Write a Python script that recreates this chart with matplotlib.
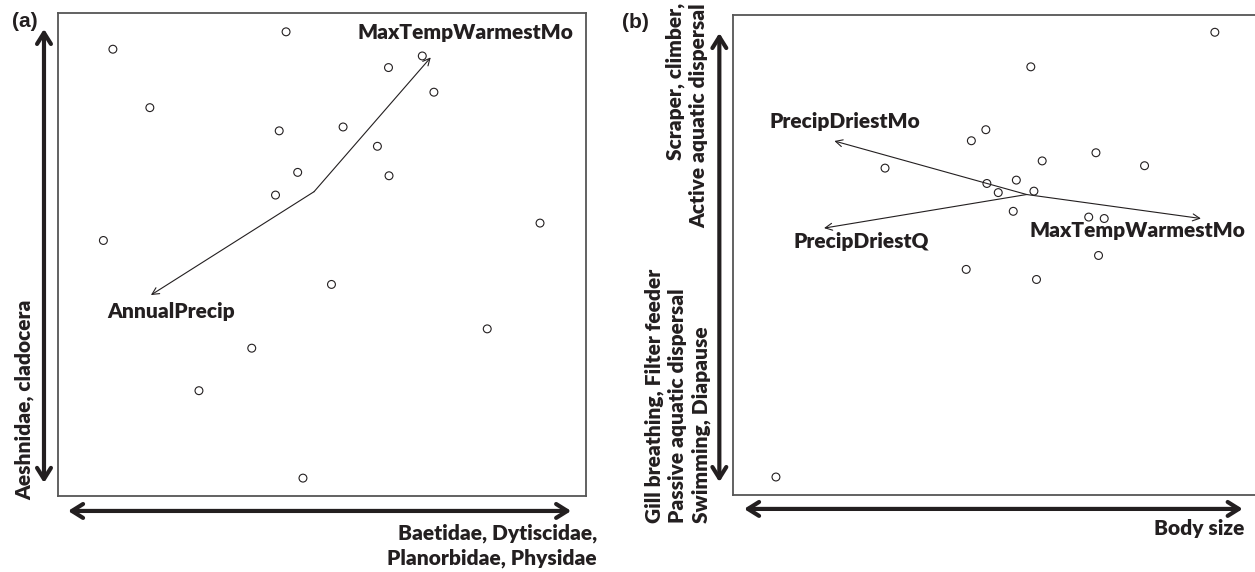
import matplotlib
matplotlib.use("Agg")
import matplotlib.pyplot as plt

plt.rcParams['font.family'] = ['Lato', 'DejaVu Sans']

# panel (a) site scores
a_x = [10.4, 43.2, 17.4, 41.9, 45.4, 41.2, 8.6, 69.0, 62.6, 71.2,
       54.0, 60.5, 62.7, 91.3, 51.8, 36.7, 26.7, 46.4, 81.3]
a_y = [92.5, 96.1, 80.4, 75.6, 67.0, 62.3, 52.9, 91.1, 88.7, 83.6,
       76.4, 72.4, 66.3, 56.5, 43.8, 30.6, 21.8, 3.7, 34.6]
# panel (a) environmental vectors: origin, tips, label positions
a_origin = (48.5, 63.0)
a_vec_names = ['MaxTempWarmestMo', 'AnnualPrecip']
a_vec_tips = [(70.6, 90.8), (17.6, 41.6)]
a_vec_lab = [(77.1, 95.9), (21.4, 38.1)]

# panel (b) site scores
b_x = [93.2, 57.6, 48.9, 46.1, 70.2, 59.8, 79.6, 49.1, 54.8, 51.3,
       58.2, 54.2, 68.8, 71.8, 70.7, 45.1, 58.7, 29.4, 8.3]
b_y = [96.4, 89.2, 76.1, 73.8, 71.3, 69.6, 68.6, 64.9, 65.6, 63.0,
       63.3, 59.1, 57.9, 57.6, 49.9, 47.0, 44.9, 68.1, 3.75]
b_origin = (56.8, 62.6)
b_vec_names = ['PrecipDriestMo', 'PrecipDriestQ', 'MaxTempWarmestMo']
b_vec_tips = [(19.6, 73.75), (17.6, 55.6), (90.5, 57.6)]
b_vec_lab = [(21.7, 77.9), (24.8, 52.9), (78.2, 55.2)]

a_xlabel = 'Baetidae, Dytiscidae,\nPlanorbidae, Physidae'
a_ylabel = 'Aeshnidae, cladocera'
b_xlabel = 'Body size'
b_ylabel_top = 'Scraper, climber,\nActive aquatic dispersal'
b_ylabel_bot = 'Gill breathing, Filter feeder\nPassive aquatic dispersal\nSwimming, Diapause'

TXT = '#231f20'
fs = 15
W = 800

fig = plt.figure(figsize=(12.55, 5.72), dpi=100)
ax1 = fig.add_axes([0.0462, 0.1329, 0.4207, 0.8444])
ax2 = fig.add_axes([0.5841, 0.1346, 0.4167, 0.8392])


def big_arrow(ax, start, end):
    ax.annotate('', xy=end, xytext=start, xycoords='axes fraction',
                textcoords='axes fraction', annotation_clip=False,
                arrowprops=dict(arrowstyle='<->,head_length=0.8,head_width=0.5',
                                lw=3, color=TXT, shrinkA=0, shrinkB=0))


def setup(ax, xmax):
    ax.set_xlim(0, xmax)
    ax.set_ylim(0, 100)
    ax.set_xticks([])
    ax.set_yticks([])
    for s in ax.spines.values():
        s.set_color('#555555')
        s.set_linewidth(1.3)


def vectors(ax, origin, tips, names, labs):
    for tip, name, lab in zip(tips, names, labs):
        ax.annotate('', xy=tip, xytext=origin,
                    arrowprops=dict(arrowstyle='->,head_length=0.5,head_width=0.25',
                                    lw=0.8, color=TXT, shrinkA=0, shrinkB=0))
        ax.text(lab[0], lab[1], name, ha='center', va='center',
                fontsize=fs, fontweight=W, color=TXT)


# panel (a)
setup(ax1, 100)
ax1.scatter(a_x, a_y, s=32, facecolors='none', edgecolors=TXT, linewidths=0.8)
vectors(ax1, a_origin, a_vec_tips, a_vec_names, a_vec_lab)
big_arrow(ax1, (-0.0265, 0.027), (-0.0265, 0.967))
big_arrow(ax1, (0.019, -0.031), (0.972, -0.031))
ax1.text(-0.0625, 0.199, a_ylabel, transform=ax1.transAxes, rotation=90,
         ha='center', va='center', fontsize=fs, fontweight=W, color=TXT)
ax1.text(1.021, -0.058, a_xlabel, transform=ax1.transAxes, ha='right', va='top',
         multialignment='right', fontsize=fs, fontweight=W, color=TXT,
         linespacing=1.3)

# panel (b)
setup(ax2, 101.16)
ax2.scatter(b_x, b_y, s=32, facecolors='none', edgecolors=TXT, linewidths=0.8)
vectors(ax2, b_origin, b_vec_tips, b_vec_names, b_vec_lab)
big_arrow(ax2, (-0.0262, 0.027), (-0.0262, 0.9625))
big_arrow(ax2, (0.021, -0.029), (0.9746, -0.029))
ax2.text(-0.0889, 1.025, b_ylabel_top, transform=ax2.transAxes, rotation=90,
         ha='center', va='top', multialignment='right', fontsize=fs,
         fontweight=W, color=TXT, linespacing=1.25)
ax2.text(-0.106, -0.058, b_ylabel_bot, transform=ax2.transAxes, rotation=90,
         ha='center', va='bottom', multialignment='left', fontsize=fs,
         fontweight=W, color=TXT, linespacing=1.25)
ax2.text(0.977, -0.069, b_xlabel, transform=ax2.transAxes, ha='right', va='center',
         fontsize=fs, fontweight=W, color=TXT)

fig.text(0.0096, 0.963, '(a)', fontsize=15, fontweight='bold', color=TXT,
         family='Liberation Sans', ha='left', va='center')
fig.text(0.4956, 0.961, '(b)', fontsize=15, fontweight='bold', color=TXT,
         family='Liberation Sans', ha='left', va='center')

fig.savefig('out.png', dpi=100)
